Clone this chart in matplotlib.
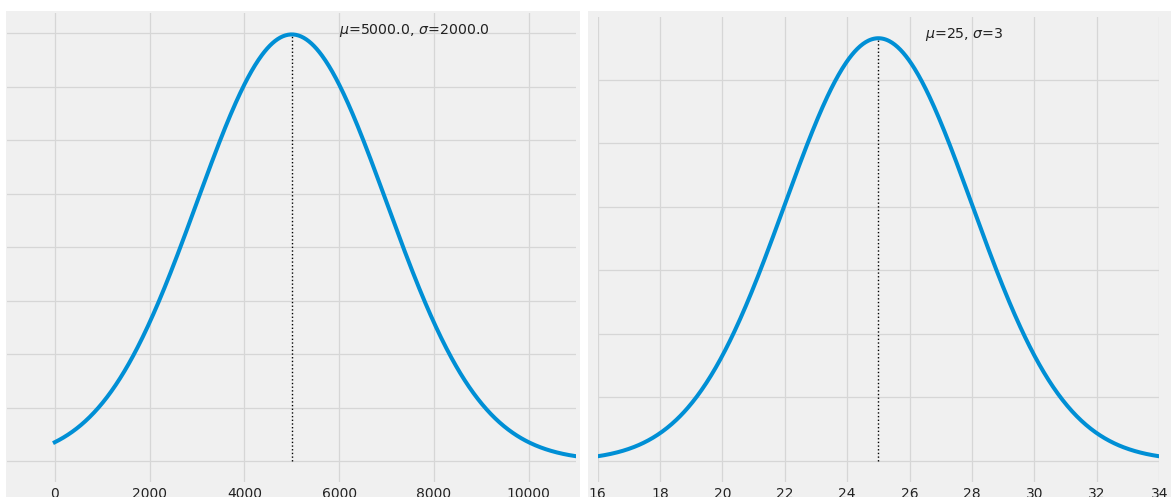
import numpy as np
import matplotlib
matplotlib.use("Agg")
import matplotlib.pyplot as plt
from matplotlib.patches import Rectangle

# ---- data ----
mus = [5000.0, 25]
sigmas = [2000.0, 3]
labels = [r"$\mu$=5000.0, $\sigma$=2000.0", r"$\mu$=25, $\sigma$=3"]
x_starts = [0, 16]
x_ends = [11000, 34]
x_lims = [(-1000, 11000), (16, 34)]
x_ticks = [[0, 2000, 4000, 6000, 8000, 10000],
           [16, 18, 20, 22, 24, 26, 28, 30, 32, 34]]

W, H = 1171, 497
fig = plt.figure(figsize=(W / 100, H / 100), dpi=100, facecolor="white")

def fx(px):
    return px / W

def fy(py):
    return 1 - py / H

# gray panel backgrounds (pixel extents)
panels = [(6, 11, 580, 497), (587.5, 11, 1171, 497)]
for (x0, y0, x1, y1) in panels:
    fig.patches.append(Rectangle((fx(x0), fy(y1)), fx(x1) - fx(x0), fy(y0) - fy(y1),
                                 transform=fig.transFigure, facecolor="#f0f0f0",
                                 edgecolor="none", zorder=-5))

# data areas (pixel extents)
areas = [(7.4, 13.1, 576.1, 482.3), (597.6, 17.1, 1159.2, 482.1)]

for i in range(2):
    x0, y0, x1, y1 = areas[i]
    ax = fig.add_axes([fx(x0), fy(y1), fx(x1) - fx(x0), fy(y0) - fy(y1)])
    ax.set_facecolor("none")
    ax.set_zorder(1)
    mu, sg = mus[i], sigmas[i]
    x = np.linspace(x_starts[i], x_ends[i], 600)
    y = np.exp(-0.5 * ((x - mu) / sg) ** 2) / (sg * np.sqrt(2 * np.pi))
    peak = 1 / (sg * np.sqrt(2 * np.pi))
    ax.plot(x, y, color="#008fd5", lw=2.9, zorder=3)
    ax.vlines(mu, 0, peak, colors="k", linestyles=":", lw=1.0, zorder=2)
    ax.text(mu + sg / 2, peak, labels[i], fontsize=10.2, color="#222222", va="baseline")
    ax.set_xlim(*x_lims[i])
    ax.set_xticks(x_ticks[i])
    ax.tick_params(axis="both", length=0, labelsize=10, colors="#222222", pad=3.5)
    ax.tick_params(axis="y", labelleft=False)
    ax.grid(True, color="#d6d6d6", lw=0.9)
    ax.set_axisbelow(True)
    for s in ax.spines.values():
        s.set_visible(False)

fig.savefig("out.png", dpi=100, facecolor="white")
